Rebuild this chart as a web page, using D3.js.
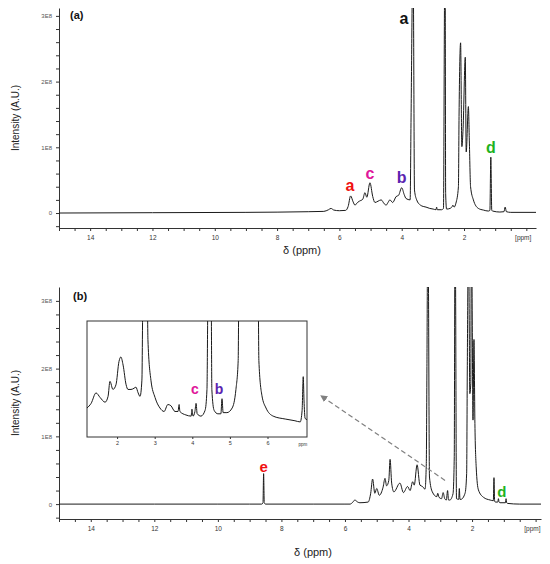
<!DOCTYPE html>
<html lang="en">
<head>
<meta charset="utf-8">
<title>1H NMR spectra</title>
<script src="https://d3js.org/d3.v7.min.js"></script>
<style>
  body { margin: 0; background: #fff; }
  svg text { font-family: "Liberation Sans", Arial, sans-serif; }
</style>
</head>
<body>
<div id="chart"></div>
<script>
// spectrum (a): chemical shift (ppm) and intensity (x 1E8)
let ppmA = [15, 12, 9, 7, 6.5, 6.35, 6.27, 6.18, 6.0, 5.8, 5.72, 5.64, 5.56, 5.5, 5.42, 5.36, 5.25, 5.18, 5.12, 5.02,
            4.93, 4.86, 4.76, 4.66, 4.56, 4.5, 4.44, 4.38, 4.29, 4.18, 4.1, 4.0, 3.92, 3.86, 3.73, 3.7, 3.65, 3.63, 3.59, 3.52,
            3.4, 3.31, 3.22, 3.1, 2.99, 2.9, 2.88, 2.86, 2.72, 2.66, 2.62, 2.605, 2.59, 2.56, 2.45, 2.38, 2.36, 2.32, 2.26, 2.18,
            2.16, 2.11, 2.07, 2.03, 1.96, 1.93, 1.86, 1.83, 1.79, 1.7, 1.54, 1.38, 1.22, 1.17, 1.14, 1.11, 1.08, 0.85, 0.72, 0.68,
            0.64, 0.5, -0.31]
let intA = [0, 0.005, 0.01, 0.02, 0.025, 0.05, 0.07, 0.045, 0.035, 0.04, 0.1, 0.26, 0.17, 0.12, 0.16, 0.18, 0.21, 0.31, 0.24, 0.46,
            0.25, 0.16, 0.18, 0.2, 0.14, 0.12, 0.16, 0.2, 0.16, 0.25, 0.27, 0.385, 0.28, 0.22, 0.2, 1.46, 3.5, 3.5, 0.35, 0.2,
            0.12, 0.1, 0.09, 0.07, 0.06, 0.05, 0.09, 0.05, 0.05, 0.07, 3.5, 3.5, 0.3, 0.06, 0.07, 0.1, 0.12, 0.09, 0.15, 0.4,
            1.47, 2.59, 1.01, 1.29, 2.37, 0.93, 1.62, 1.11, 0.4, 0.2, 0.07, 0.045, 0.03, 0.04, 0.85, 0.04, 0.03, 0.015, 0.02, 0.09,
            0.02, 0.01, 0.01]

// spectrum (b)
let ppmB = [15, 12, 10, 9, 8.62, 8.58, 8.56, 8.54, 8.5, 7, 6, 5.84, 5.75, 5.69, 5.6, 5.53, 5.27, 5.19, 5.13, 5.06,
            5.0, 4.92, 4.8, 4.74, 4.69, 4.62, 4.58, 4.53, 4.46, 4.27, 4.16, 4.03, 3.95, 3.87, 3.82, 3.73, 3.64, 3.56, 3.48, 3.44,
            3.42, 3.4, 3.38, 3.34, 3.25, 3.11, 3.08, 3.04, 2.96, 2.91, 2.86, 2.81, 2.77, 2.74, 2.7, 2.6, 2.56, 2.54, 2.525, 2.49,
            2.42, 2.4, 2.38, 2.35, 2.22, 2.17, 2.15, 2.12, 2.105, 2.07, 2.04, 2.025, 2.01, 1.97, 1.94, 1.91, 1.87, 1.8, 1.64, 1.43,
            1.33, 1.31, 1.29, 1.27, 1.19, 1.17, 1.15, 1.12, 0.95, 0.93, 0.91, 0.88, 0.5, -0.19]
let intB = [0, 0, 0, 0, 0, 0.02, 0.45, 0.02, 0, 0, 0, 0, 0.03, 0.06, 0.03, 0.02, 0.03, 0.16, 0.37, 0.16,
            0.23, 0.13, 0.25, 0.38, 0.27, 0.35, 0.66, 0.31, 0.18, 0.31, 0.17, 0.26, 0.2, 0.33, 0.28, 0.58, 0.28, 0.26, 0.22, 0.6,
            2.03, 3.6, 3.6, 0.4, 0.18, 0.11, 0.16, 0.1, 0.08, 0.17, 0.08, 0.06, 0.2, 0.06, 0.06, 0.15, 0.7, 3.6, 3.6, 0.08,
            0.07, 0.23, 0.07, 0.07, 0.16, 0.45, 1.98, 3.6, 3.6, 1.63, 1.78, 3.6, 3.6, 1.24, 2.43, 1.19, 0.55, 0.21, 0.1, 0.06,
            0.05, 0.39, 0.05, 0.03, 0.03, 0.08, 0.03, 0.02, 0.02, 0.08, 0.02, 0.01, 0, 0]

// inset of (b): its own axis (ppm-like, increasing) and relative height
let ppmInset = [1.2, 1.31, 1.44, 1.55, 1.68, 1.76, 1.81, 1.89, 1.97, 2.05, 2.1, 2.16, 2.24, 2.29, 2.37, 2.45, 2.5, 2.56, 2.61, 2.66,
                2.69, 2.8, 2.82, 2.9, 3.01, 3.14, 3.25, 3.35, 3.43, 3.54, 3.62, 3.65, 3.67, 3.83, 3.97, 3.99, 4.02, 4.07, 4.1, 4.13,
                4.23, 4.34, 4.39, 4.42, 4.5, 4.52, 4.58, 4.68, 4.76, 4.79, 4.82, 4.92, 5.06, 5.16, 5.22, 5.24, 5.75, 5.77, 5.85, 5.96,
                6.15, 6.47, 6.73, 6.87, 6.92, 6.95, 6.97, 7.0, 7.05]
let intInset = [0.25, 0.29, 0.38, 0.34, 0.3, 0.35, 0.48, 0.41, 0.45, 0.65, 0.69, 0.62, 0.45, 0.41, 0.41, 0.42, 0.43, 0.38, 0.35, 0.49,
                1.3, 1.3, 0.84, 0.49, 0.34, 0.25, 0.22, 0.28, 0.27, 0.22, 0.22, 0.28, 0.22, 0.19, 0.18, 0.24, 0.18, 0.22, 0.29, 0.2,
                0.18, 0.23, 0.41, 1.3, 1.3, 0.41, 0.23, 0.2, 0.2, 0.33, 0.21, 0.21, 0.25, 0.41, 0.66, 1.3, 1.3, 0.66, 0.36, 0.25,
                0.18, 0.155, 0.14, 0.13, 0.23, 0.52, 0.32, 0.16, 0.15]

let yTickLabels = ['0', '1E8', '2E8', '3E8']
let xTickLabels = [14, 12, 10, 8, 6, 4, 2]
let insetTickLabels = [2, 3, 4, 5, 6]

// peak letters: text, ppm, intensity at the baseline of the letter, colour
let labelsA = [
  {t: 'a', ppm: 3.93, v: 2.88, c: '#111'},
  {t: 'a', ppm: 5.66, v: 0.335, c: '#f01010'},
  {t: 'c', ppm: 5.02, v: 0.52, c: '#e0169a'},
  {t: 'b', ppm: 4.0, v: 0.46, c: '#5b24b0'},
  {t: 'd', ppm: 1.135, v: 0.91, c: '#1fb31f'}
]
let labelsB = [
  {t: 'e', ppm: 8.56, v: 0.47, c: '#f01010'},
  {t: 'd', ppm: 1.06, v: 0.1, c: '#1fb31f'}
]
let labelsInset = [
  {t: 'c', ppm: 4.07, v: 0.37, c: '#e0169a'},
  {t: 'b', ppm: 4.71, v: 0.37, c: '#5b24b0'}
]
// dashed arrow in (b), tail -> head, in ppm / intensity
let arrowPpm = [2.85, 6.76]
let arrowVal = [0.35, 1.6]

let W = 550, H = 564
let svg = d3.select('#chart').append('svg')
  .attr('width', W)
  .attr('height', H)

let defs = svg.append('defs')
defs.append('marker')
  .attr('id', 'arrowhead')
  .attr('viewBox', '0 0 10 10')
  .attr('refX', 9).attr('refY', 5)
  .attr('markerWidth', 7).attr('markerHeight', 7)
  .attr('markerUnits', 'userSpaceOnUse')
  .attr('orient', 'auto')
  .append('path')
  .attr('d', 'M0,0 L10,5 L0,10 z')
  .attr('fill', '#808080')

function drawPanel(id, box, xDom, yDom, ppm, vals, tag, labels, titleY) {
  let x = d3.scaleLinear().domain(xDom).range([box.left, box.right])
  let y = d3.scaleLinear().domain(yDom).range([box.bottom, box.top])
  let g = svg.append('g')

  defs.append('clipPath').attr('id', 'clip-' + id)
    .append('rect')
    .attr('x', box.left).attr('y', box.top)
    .attr('width', box.right - box.left).attr('height', box.bottom - box.top)

  // y axis
  let yAxis = d3.axisLeft(y)
    .tickValues(d3.range(-0.2, 3.01, 0.2))
    .tickSize(3)
    .tickSizeOuter(0)
    .tickFormat(d => {
      let r = Math.round(d)
      return Math.abs(d - r) < 1e-6 && r >= 0 ? yTickLabels[r] : ''
    })
  g.append('g')
    .attr('transform', 'translate(' + box.left + ',0)')
    .call(yAxis)
    .call(a => a.selectAll('text').attr('font-size', 6).attr('fill', '#555').attr('dx', -1))
    .call(a => a.selectAll('line, path').attr('stroke', '#333'))

  // x axis
  let xAxis = d3.axisBottom(x)
    .tickValues(d3.range(0, 15.01, 0.5))
    .tickSize(3)
    .tickSizeOuter(0)
    .tickFormat(d => xTickLabels.includes(d) ? d : '')
  g.append('g')
    .attr('transform', 'translate(0,' + box.bottom + ')')
    .call(xAxis)
    .call(a => a.selectAll('text').attr('font-size', 6.5).attr('fill', '#333').attr('dy', '0.9em'))
    .call(a => a.selectAll('line, path').attr('stroke', '#333'))

  g.append('text')
    .attr('x', x(0.1)).attr('y', box.bottom + 12)
    .attr('text-anchor', 'middle')
    .attr('font-size', 6.5).attr('fill', '#333')
    .text('[ppm]')

  // spectrum
  let line = d3.line()
    .x((d, i) => x(ppm[i]))
    .y(d => y(d))
    .curve(d3.curveMonotoneX)
  g.append('path')
    .datum(vals)
    .attr('clip-path', 'url(#clip-' + id + ')')
    .attr('fill', 'none')
    .attr('stroke', '#1a1a1a')
    .attr('stroke-width', 1)
    .attr('d', line)

  // titles
  g.append('text')
    .attr('transform', 'translate(19,' + ((box.top + box.bottom) / 2) + ') rotate(-90)')
    .attr('text-anchor', 'middle')
    .attr('font-size', 10).attr('fill', '#222')
    .text('Intensity (A.U.)')
  g.append('text')
    .attr('x', titleY.x).attr('y', titleY.y)
    .attr('text-anchor', 'middle')
    .attr('font-size', 11).attr('fill', '#222')
    .text('δ (ppm)')
  g.append('text')
    .attr('x', tag.x).attr('y', tag.y)
    .attr('font-size', 11).attr('font-weight', 'bold').attr('fill', '#111')
    .text(tag.t)

  g.selectAll('.peak')
    .data(labels)
    .enter()
    .append('text')
    .attr('class', 'peak')
    .attr('x', d => x(d.ppm)).attr('y', d => y(d.v))
    .attr('text-anchor', 'middle')
    .attr('font-size', 16).attr('font-weight', 'bold')
    .attr('fill', d => d.c)
    .text(d => d.t)

  return {x: x, y: y, g: g}
}

let boxA = {left: 59, right: 536, top: 8, bottom: 228}
let boxB = {left: 59, right: 541, top: 287, bottom: 519}

drawPanel('a', boxA, [15, -0.31], [-0.228, 3.12], ppmA, intA, {t: '(a)', x: 70, y: 19}, labelsA, {x: 302, y: 254})
let pb = drawPanel('b', boxB, [15, -0.17], [-0.22, 3.205], ppmB, intB, {t: '(b)', x: 73, y: 300}, labelsB, {x: 313, y: 556})
pb.g.selectAll('.peak').attr('font-size', 15)

// dashed arrow pointing to the inset
svg.append('line')
  .attr('x1', pb.x(arrowPpm[0])).attr('y1', pb.y(arrowVal[0]))
  .attr('x2', pb.x(arrowPpm[1])).attr('y2', pb.y(arrowVal[1]))
  .attr('stroke', '#808080')
  .attr('stroke-width', 1.2)
  .attr('stroke-dasharray', '5,3')
  .attr('marker-end', 'url(#arrowhead)')

// inset
let inBox = {left: 87, right: 307, top: 321, bottom: 437}
let xi = d3.scaleLinear().domain([1.2, 7.05]).range([inBox.left, inBox.right])
let yi = d3.scaleLinear().domain([0, 1]).range([inBox.bottom, inBox.top])
let inset = svg.append('g')

defs.append('clipPath').attr('id', 'clip-inset')
  .append('rect')
  .attr('x', inBox.left).attr('y', inBox.top)
  .attr('width', inBox.right - inBox.left).attr('height', inBox.bottom - inBox.top)

inset.append('rect')
  .attr('x', inBox.left).attr('y', inBox.top)
  .attr('width', inBox.right - inBox.left).attr('height', inBox.bottom - inBox.top)
  .attr('fill', '#fff')
  .attr('stroke', '#333')
  .attr('stroke-width', 1)

inset.append('g')
  .attr('transform', 'translate(0,' + inBox.bottom + ')')
  .call(d3.axisBottom(xi).tickValues(insetTickLabels).tickFormat(d3.format('d')).tickSize(2).tickSizeOuter(0))
  .call(a => a.select('.domain').remove())
  .call(a => a.selectAll('line').attr('stroke', '#333'))
  .call(a => a.selectAll('text').attr('font-size', 5.5).attr('fill', '#333').attr('dy', '0.6em'))

inset.append('text')
  .attr('x', xi(6.94)).attr('y', inBox.bottom + 9)
  .attr('text-anchor', 'middle')
  .attr('font-size', 4.5).attr('fill', '#333')
  .text('ppm')

let insetLine = d3.line()
  .x((d, i) => xi(ppmInset[i]))
  .y(d => yi(d))
  .curve(d3.curveMonotoneX)
inset.append('path')
  .datum(intInset)
  .attr('clip-path', 'url(#clip-inset)')
  .attr('fill', 'none')
  .attr('stroke', '#1a1a1a')
  .attr('stroke-width', 1)
  .attr('d', insetLine)

inset.selectAll('.peak')
  .data(labelsInset)
  .enter()
  .append('text')
  .attr('x', d => xi(d.ppm)).attr('y', d => yi(d.v))
  .attr('text-anchor', 'middle')
  .attr('font-size', 14).attr('font-weight', 'bold')
  .attr('fill', d => d.c)
  .text(d => d.t)
</script>
</body>
</html>
